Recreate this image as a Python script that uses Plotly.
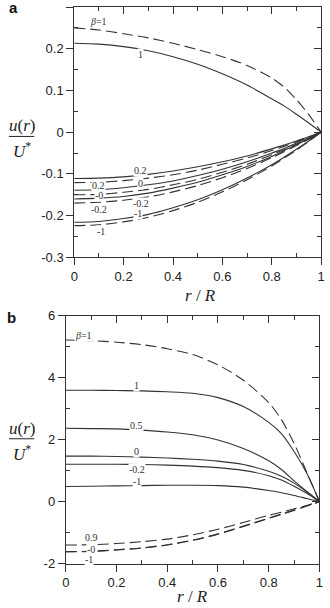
import plotly.graph_objects as go

# ---------------- data ----------------
r = [0, 0.1, 0.2, 0.3, 0.4, 0.5, 0.6, 0.7, 0.8, 0.85, 0.9, 0.95, 1.0]

# panel a
a_dash_b1 = [0.250, 0.245, 0.236, 0.226, 0.213, 0.198, 0.181, 0.160, 0.130, 0.108, 0.078, 0.042, 0]
a_sol_b1 = [0.213, 0.211, 0.205, 0.195, 0.181, 0.163, 0.140, 0.113, 0.080, 0.063, 0.043, 0.022, 0]
a_sol_02 = [-0.111, -0.110, -0.107, -0.101, -0.093, -0.083, -0.071, -0.057, -0.040, -0.031, -0.021, -0.011, 0]
a_dash_02 = [-0.121, -0.120, -0.116, -0.110, -0.102, -0.091, -0.077, -0.062, -0.044, -0.034, -0.023, -0.012, 0]
a_sol_0 = [-0.139, -0.138, -0.133, -0.126, -0.117, -0.104, -0.089, -0.071, -0.050, -0.039, -0.026, -0.014, 0]
a_dash_0 = [-0.150, -0.149, -0.144, -0.137, -0.126, -0.113, -0.096, -0.077, -0.054, -0.042, -0.029, -0.015, 0]
a_sol_m02 = [-0.160, -0.158, -0.154, -0.146, -0.134, -0.120, -0.102, -0.082, -0.058, -0.044, -0.030, -0.016, 0]
a_dash_m02 = [-0.170, -0.168, -0.163, -0.155, -0.143, -0.128, -0.109, -0.087, -0.061, -0.047, -0.032, -0.017, 0]
a_sol_m1 = [-0.216, -0.214, -0.207, -0.197, -0.181, -0.162, -0.138, -0.110, -0.078, -0.060, -0.041, -0.021, 0]
a_dash_m1 = [-0.224, -0.222, -0.215, -0.204, -0.188, -0.168, -0.143, -0.114, -0.081, -0.062, -0.043, -0.022, 0]

# panel b
b_dash_b1 = [5.22, 5.20, 5.15, 5.07, 4.94, 4.75, 4.42, 3.92, 3.20, 2.65, 1.88, 0.95, 0]
b_sol_1 = [3.60, 3.60, 3.59, 3.58, 3.55, 3.50, 3.36, 3.07, 2.56, 2.20, 1.62, 0.92, 0]
b_sol_05 = [2.37, 2.36, 2.35, 2.31, 2.25, 2.16, 1.99, 1.72, 1.32, 1.04, 0.67, 0.33, 0]
b_sol_0 = [1.47, 1.47, 1.46, 1.44, 1.41, 1.37, 1.31, 1.20, 0.98, 0.82, 0.60, 0.32, 0]
b_sol_m02 = [1.21, 1.21, 1.21, 1.20, 1.18, 1.15, 1.10, 1.01, 0.84, 0.70, 0.50, 0.27, 0]
b_sol_m1 = [0.49, 0.50, 0.51, 0.52, 0.53, 0.53, 0.52, 0.47, 0.36, 0.29, 0.20, 0.10, 0]
b_dash_09 = [-1.40, -1.39, -1.35, -1.29, -1.21, -1.07, -0.89, -0.67, -0.44, -0.34, -0.23, -0.12, 0]
b_dash_0 = [-1.61, -1.60, -1.55, -1.49, -1.39, -1.24, -1.04, -0.79, -0.53, -0.40, -0.27, -0.14, 0]
b_dash_m1 = [-1.62, -1.61, -1.56, -1.50, -1.40, -1.25, -1.05, -0.80, -0.54, -0.41, -0.28, -0.14, 0]

x_ticks = [0, 0.2, 0.4, 0.6, 0.8, 1]
x_ticktext = ["0", "0.2", "0.4", "0.6", "0.8", "1"]
x_minor = [0.1, 0.3, 0.5, 0.7, 0.9]
ya_ticks = [-0.3, -0.2, -0.1, 0, 0.1, 0.2, 0.3]
ya_ticktext = ["-0.3", "-0.2", "-0.1", "0", "0.1", "0.2", "0.3"]
ya_minor = [-0.25, -0.15, -0.05, 0.05, 0.15, 0.25]
yb_ticks = [-2, 0, 2, 4, 6]
yb_ticktext = ["-2", "0", "2", "4", "6"]
yb_minor = [-1, 1, 3, 5]

# labels (text, x, y)
a_labels = [("<i>β</i>=1", 0.10, 0.265), ("1", 0.27, 0.187),
            ("0.2", 0.27, -0.092), ("0", 0.27, -0.122), ("0.2", 0.10, -0.128),
            ("-0", 0.10, -0.152), ("-0.2", 0.10, -0.186), ("-0.2", 0.27, -0.171),
            ("-1", 0.26, -0.194), ("-1", 0.11, -0.238)]
b_labels = [("<i>β</i>=1", 0.07, 5.38), ("1", 0.28, 3.75), ("0.5", 0.28, 2.46),
            ("0", 0.28, 1.62), ("-0.2", 0.28, 1.05), ("-1", 0.28, 0.65),
            ("0.9", 0.10, -1.17), ("-0", 0.10, -1.53), ("-1", 0.09, -1.86)]

# ---------------- figure ----------------
LC = "#333333"
DASH = "11px,5px"
fig = go.Figure()


def add(y, xa, ya, dashed):
    fig.add_trace(go.Scatter(
        x=r, y=y, mode="lines", xaxis=xa, yaxis=ya, showlegend=False,
        line=dict(color=LC, width=1.1, dash=DASH if dashed else "solid",
                  shape="spline", smoothing=0.8),
        hoverinfo="skip"))


for y in [a_sol_b1, a_sol_02, a_sol_0, a_sol_m02, a_sol_m1]:
    add(y, "x", "y", False)
for y in [a_dash_b1, a_dash_02, a_dash_0, a_dash_m02, a_dash_m1]:
    add(y, "x", "y", True)
for y in [b_sol_1, b_sol_05, b_sol_0, b_sol_m02, b_sol_m1]:
    add(y, "x2", "y2", False)
for y in [b_dash_b1, b_dash_09, b_dash_0, b_dash_m1]:
    add(y, "x2", "y2", True)

# dummy traces for mirrored inside-tick axes
for xa, ya in [("x3", "y3"), ("x4", "y4")]:
    fig.add_trace(go.Scatter(x=[None], y=[None], xaxis=xa, yaxis=ya,
                             showlegend=False, hoverinfo="skip"))

dom_xa = [72 / 330, 325 / 330]
dom_xb = [63.3 / 330, 323.3 / 330]
dom_ya = [1 - 256.7 / 608, 1.0]
dom_yb = [1 - 570.7 / 608, 1 - 316.7 / 608]

tickfont = dict(family="Liberation Sans, Arial", size=13, color="#222")
common = dict(showgrid=False, zeroline=False, showline=True, linecolor=LC,
              linewidth=1, tickcolor=LC, tickwidth=1, tickfont=tickfont,
              fixedrange=True)


def xax(dom, anchor, main=True, overlay=None):
    d = dict(common, domain=dom, anchor=anchor, range=[0, 1], tickmode="array",
             tickvals=x_ticks, ticktext=x_ticktext,
             minor=dict(tickmode="array", tickvals=x_minor, ticklen=4,
                        tickcolor=LC, ticks="inside"))
    if main:
        d.update(ticks="outside", ticklen=7, mirror=True)
    else:
        d.update(ticks="inside", ticklen=7, side="top", overlaying=overlay,
                 showticklabels=False)
    return d


def yax(dom, anchor, rng, tv, tt, mn, main=True, overlay=None):
    d = dict(common, domain=dom, anchor=anchor, range=rng, tickmode="array",
             tickvals=tv, ticktext=tt,
             minor=dict(tickmode="array", tickvals=mn, ticklen=4,
                        tickcolor=LC, ticks="inside"))
    if main:
        d.update(ticks="outside", ticklen=7, mirror=True)
    else:
        d.update(ticks="inside", ticklen=7, side="right", overlaying=overlay,
                 showticklabels=False)
    return d


fig.update_layout(
    width=330, height=608, margin=dict(l=0, r=0, t=0, b=0),
    paper_bgcolor="white", plot_bgcolor="white",
    xaxis=xax(dom_xa, "y"),
    yaxis=yax(dom_ya, "x", [-0.3, 0.3], ya_ticks, ya_ticktext, ya_minor),
    xaxis2=xax(dom_xb, "y2"),
    yaxis2=yax(dom_yb, "x2", [-2, 6], yb_ticks, yb_ticktext, yb_minor),
    xaxis3=xax(dom_xa, "y3", main=False, overlay="x"),
    yaxis3=yax(dom_ya, "x3", [-0.3, 0.3], ya_ticks, ya_ticktext, ya_minor,
               main=False, overlay="y"),
    xaxis4=xax(dom_xb, "y4", main=False, overlay="x2"),
    yaxis4=yax(dom_yb, "x4", [-2, 6], yb_ticks, yb_ticktext, yb_minor,
               main=False, overlay="y2"),
)

lblfont = dict(family="Liberation Serif, Times New Roman", size=10, color="#333")
for t, x, y in a_labels:
    fig.add_annotation(text=t, x=x, y=y, xref="x", yref="y", showarrow=False,
                       font=lblfont, bgcolor="white", borderpad=0)
for t, x, y in b_labels:
    fig.add_annotation(text=t, x=x, y=y, xref="x2", yref="y2", showarrow=False,
                       font=lblfont, bgcolor="white", borderpad=0)

serif = dict(family="Liberation Serif, Times New Roman", size=17, color="#222")
# y-axis fraction titles (numerator centre, fraction line) in pixels
for num_px, line_px in [(121, 132.7), (432, 442.7)]:
    fig.add_annotation(text="<i>u</i>(<i>r</i>)", x=18 / 330, y=1 - num_px / 608,
                       xref="paper", yref="paper", showarrow=False, font=serif,
                       xanchor="center", yanchor="middle")
    fig.add_annotation(text="<i>U</i><sup>*</sup>",
                       x=18 / 330, y=1 - (line_px + 1) / 608,
                       xref="paper", yref="paper", showarrow=False, font=serif,
                       xanchor="center", yanchor="top")
    fig.add_shape(type="line", xref="paper", yref="paper",
                  x0=5 / 330, x1=31 / 330, y0=1 - line_px / 608, y1=1 - line_px / 608,
                  line=dict(color="#222", width=1))

# x-axis titles
fig.add_annotation(text="<i>r</i> / <i>R</i>", x=201 / 330, y=1 - 295.7 / 608,
                   xref="paper", yref="paper", showarrow=False, font=serif,
                   xanchor="center", yanchor="middle")
fig.add_annotation(text="<i>r</i> / <i>R</i>", x=193 / 330, y=1 - 604 / 608,
                   xref="paper", yref="paper", showarrow=False, font=serif,
                   xanchor="center", yanchor="middle")

# panel letters
pfont = dict(family="Liberation Sans, Arial", size=15, color="#111")
fig.add_annotation(text="<b>a</b>", x=10 / 330, y=1 - 1 / 608, xref="paper", yref="paper",
                   showarrow=False, font=pfont, xanchor="center", yanchor="middle")
fig.add_annotation(text="<b>b</b>", x=8 / 330, y=1 - 318 / 608, xref="paper", yref="paper",
                   showarrow=False, font=pfont, xanchor="center", yanchor="middle")

fig.write_html("out.html")
